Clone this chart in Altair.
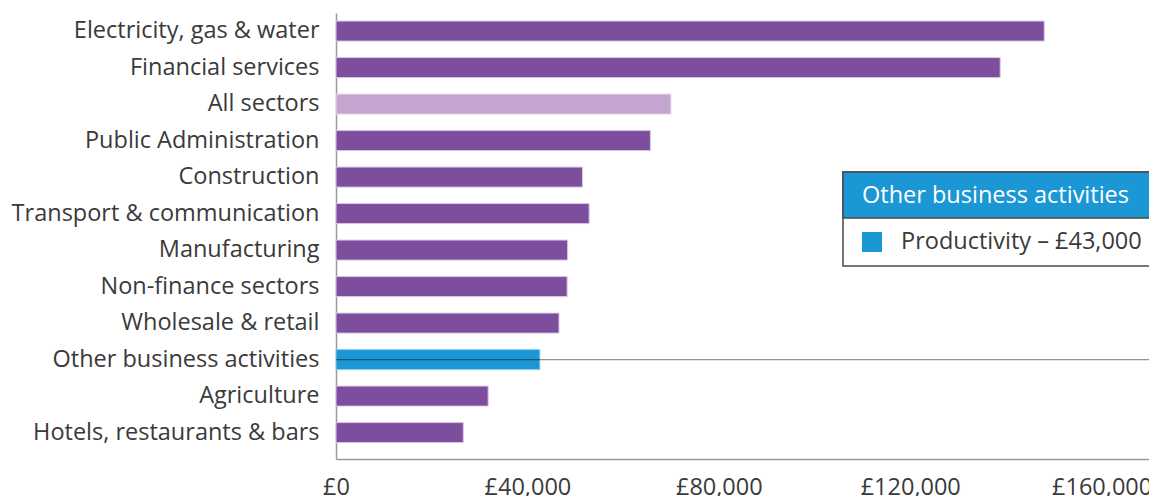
import altair as alt
import pandas as pd

sectors = [
    "Electricity, gas & water",
    "Financial services",
    "All sectors",
    "Public Administration",
    "Construction",
    "Transport & communication",
    "Manufacturing",
    "Non-finance sectors",
    "Wholesale & retail",
    "Other business activities",
    "Agriculture",
    "Hotels, restaurants & bars",
]
productivity = [148000, 138800, 70000, 65700, 51500, 52900, 48400, 48300, 46600, 42600, 31800, 26600]
groups = ["sector", "sector", "all", "sector", "sector", "sector", "sector", "sector", "sector",
          "highlight", "sector", "sector"]

highlight_sector = "Other business activities"
tooltip_title = ["Other business activities"]
tooltip_text = ["Productivity \u2013 \u00a343,000"]
x_ticks = [0, 40000, 80000, 120000, 160000]

FONT = "Open Sans"
TEXT = "#3a3a3a"
FS = 23.5

df = pd.DataFrame({"sector": sectors, "value": productivity, "group": groups})

W, H = 813, 446

xscale = alt.Scale(domain=[0, 169900], nice=False, zero=True)
yscale = alt.Scale(domain=sectors, paddingInner=0.452, paddingOuter=0.335, align=0.33)

bars = alt.Chart(df).mark_bar(strokeWidth=1).encode(
    x=alt.X("value:Q", scale=xscale,
            axis=alt.Axis(values=x_ticks, labelExpr="'\u00a3' + format(datum.value, ',d')",
                          title=None, grid=False, ticks=False,
                          labelFont=FONT, labelFontSize=FS, labelColor=TEXT, labelPadding=16,
                          domainColor="#9a9a9a", domainWidth=1.5, labelFlush=False)),
    y=alt.Y("sector:N", scale=yscale, sort=sectors,
            axis=alt.Axis(title=None, ticks=False, labelFont=FONT, labelFontSize=FS,
                          labelColor=TEXT, labelPadding=17, domainColor="#9a9a9a",
                          domainWidth=1.5, labelLimit=400)),
    color=alt.Color("group:N", scale=alt.Scale(domain=["sector", "all", "highlight"],
                                                range=["#7c4e9d", "#c4a5cf", "#1b97d5"]),
                    legend=None),
    stroke=alt.Stroke("group:N", scale=alt.Scale(domain=["sector", "all", "highlight"],
                                                  range=["#d9c6e3", "#e6d9ec", "#8fcbea"]),
                      legend=None),
)

rule_df = pd.DataFrame({"sector": [highlight_sector]})
rule = alt.Chart(rule_df).mark_rule(color="#000000", opacity=0.42, strokeWidth=1.2).encode(
    y=alt.Y("sector:N", scale=yscale, sort=sectors),
    x=alt.value(0),
    x2=alt.value(W),
)

tip_df = pd.DataFrame({"title": tooltip_title, "text": tooltip_text})
box = alt.Chart(tip_df).mark_rect(fill="white", stroke="#4a4a4a", strokeWidth=1.5).encode(
    x=alt.value(507), x2=alt.value(W + 40), y=alt.value(159), y2=alt.value(253))
header = alt.Chart(tip_df).mark_rect(fill="#1b97d5", stroke="#4a4a4a", strokeWidth=1.5).encode(
    x=alt.value(507), x2=alt.value(W + 40), y=alt.value(159), y2=alt.value(205))
title_txt = alt.Chart(tip_df).mark_text(align="left", baseline="middle", font=FONT,
                                        fontSize=FS, color="white").encode(
    text="title:N", x=alt.value(526), y=alt.value(183))
square = alt.Chart(tip_df).mark_rect(fill="#1b97d5").encode(
    x=alt.value(526), x2=alt.value(546), y=alt.value(219), y2=alt.value(239))
body_txt = alt.Chart(tip_df).mark_text(align="left", baseline="middle", font=FONT,
                                       fontSize=FS, color=TEXT).encode(
    text="text:N", x=alt.value(565), y=alt.value(229))

chart = alt.layer(bars, rule, box, header, title_txt, square, body_txt).properties(
    width=W, height=H,
    background="white",
    autosize=alt.AutoSizeParams(type="none"),
    padding={"left": 328, "top": 5, "right": 0, "bottom": 40},
).configure_view(stroke=None)

chart.save("out.html", embed_options={"renderer": "svg", "actions": False})
